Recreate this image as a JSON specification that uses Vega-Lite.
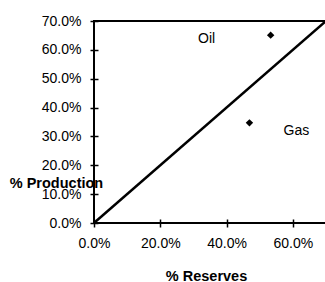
{
  "$schema": "https://vega.github.io/schema/vega-lite/v6.json",
  "autosize": {"type": "none"},
  "padding": {"left": 94, "top": 21, "right": 0, "bottom": 59},
  "width": 232,
  "height": 202,
  "config": {
    "view": {"stroke": "black", "strokeWidth": 2},
    "font": "Liberation Sans",
    "axis": {
      "grid": false,
      "domain": false,
      "ticks": true,
      "tickColor": "black",
      "tickWidth": 1.5,
      "tickSize": 8,
      "offset": -4,
      "labelPadding": 9,
      "labelFontSize": 14,
      "labelColor": "black",
      "labelOverlap": false,
      "labelFlush": false,
      "labelBound": false,
      "titleFontSize": 14.5,
      "titleFontWeight": "bold",
      "titleColor": "black"
    }
  },
  "datasets": {
    "series": [
      {"fuel": "Oil", "reserves": 0.533, "production": 0.651},
      {"fuel": "Gas", "reserves": 0.469, "production": 0.347}
    ],
    "parity": [
      {"reserves": 0, "production": 0},
      {"reserves": 0.7, "production": 0.7}
    ]
  },
  "encoding": {
    "x": {
      "field": "reserves", "type": "quantitative",
      "scale": {"domain": [0, 0.7], "nice": false},
      "axis": {"values": [0, 0.2, 0.4, 0.6], "format": ".1%", "title": "% Reserves",
               "titleBaseline": "alphabetic", "titleY": 61, "titleX": 112}
    },
    "y": {
      "field": "production", "type": "quantitative",
      "scale": {"domain": [0, 0.7], "nice": false},
      "axis": {"values": [0, 0.1, 0.2, 0.3, 0.4, 0.5, 0.6, 0.7], "tickCount": 8, "format": ".1%", "title": "% Production",
               "titleAngle": 0, "titleAlign": "center", "titleBaseline": "alphabetic",
               "titleX": -42, "titleY": 166}
    }
  },
  "layer": [
    {
      "data": {"name": "parity"},
      "mark": {"type": "line", "color": "black", "strokeWidth": 2.5, "clip": true}
    },
    {
      "data": {"name": "series"},
      "mark": {"type": "point", "shape": "diamond", "filled": true, "color": "black", "size": 55, "opacity": 1}
    },
    {
      "data": {"name": "series"},
      "transform": [{"filter": "datum.fuel === 'Oil'"}],
      "mark": {"type": "text", "fontSize": 14, "color": "black", "dx": -64, "dy": 4, "align": "center", "baseline": "middle"},
      "encoding": {"text": {"field": "fuel"}}
    },
    {
      "data": {"name": "series"},
      "transform": [{"filter": "datum.fuel === 'Gas'"}],
      "mark": {"type": "text", "fontSize": 14, "color": "black", "dx": 47, "dy": 8, "align": "center", "baseline": "middle"},
      "encoding": {"text": {"field": "fuel"}}
    }
  ]
}
